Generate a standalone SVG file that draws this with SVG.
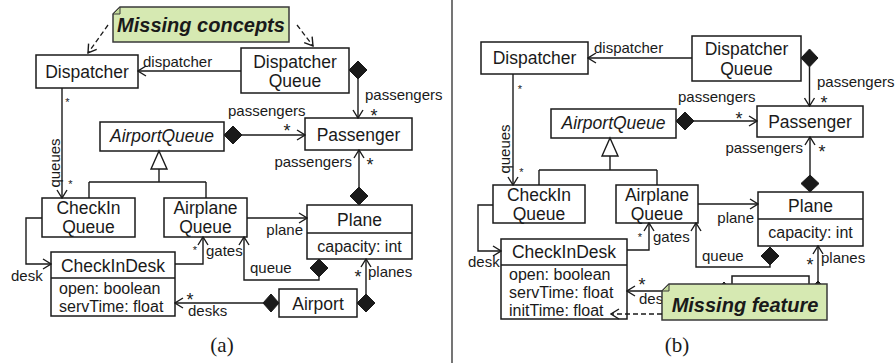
<svg xmlns="http://www.w3.org/2000/svg" width="896" height="363" viewBox="0 0 896 363">
<style>
  .box { fill: #ffffff; stroke: #1a1a1a; stroke-width: 1.5; }
  .div { stroke: #1a1a1a; stroke-width: 1.5; }
  .cn { font-family: "Liberation Sans", Arial, sans-serif; font-size: 17.5px; fill: #1a1a1a; text-anchor: middle; }
  .it { font-style: italic; }
  .at { font-family: "Liberation Sans", Arial, sans-serif; font-size: 16px; fill: #1a1a1a; }
  .lb { font-family: "Liberation Sans", Arial, sans-serif; font-size: 15px; fill: #1a1a1a; }
  .end { text-anchor: end; }
  .st { font-family: "Liberation Sans", Arial, sans-serif; font-size: 18px; fill: #1a1a1a; text-anchor: middle; }
  .ss { font-family: "Liberation Sans", Arial, sans-serif; font-size: 11px; fill: #1a1a1a; text-anchor: middle; }
  .ln { fill: none; stroke: #1a1a1a; stroke-width: 1.4; }
  .ar { marker-end: url(#arr); }
  .dm { fill: #1a1a1a; stroke: #1a1a1a; stroke-width: 1; }
  .gen { fill: #ffffff; stroke: #1a1a1a; stroke-width: 1.4; }
  .dash { fill: none; stroke: #1a1a1a; stroke-width: 1.3; stroke-dasharray: 5 3; marker-end: url(#arr); }
  .note { fill: #d6e9b2; stroke: #3a3a3a; stroke-width: 1.5; }
  .fold { fill: #c2d99a; stroke: #3a3a3a; stroke-width: 1; }
  .nt { font-family: "Liberation Sans", Arial, sans-serif; font-size: 20px; font-weight: bold; font-style: italic; fill: #1a1a1a; }
  .cap { font-family: "Liberation Serif", "Times New Roman", serif; font-size: 21px; fill: #1a1a1a; text-anchor: middle; }
</style>
<defs>
  <marker id="arr" viewBox="0 0 10 12" refX="9" refY="6" markerWidth="10" markerHeight="12" markerUnits="userSpaceOnUse" orient="auto">
    <path d="M1,1 L9,6 L1,11" fill="none" stroke="#1a1a1a" stroke-width="1.4"/>
  </marker>
</defs>
<rect width="896" height="363" fill="#ffffff"/>

<!-- panel divider -->
<line x1="452" y1="0" x2="452" y2="363" stroke="#1a1a1a" stroke-width="1.2"/>

<!-- ===== Left panel nodes ===== -->
<g id="a-dispatcher">
  <rect class="box" x="36" y="55" width="102" height="33"/>
  <text class="cn" x="87" y="78">Dispatcher</text>
</g>
<g id="a-dispatcherqueue">
  <rect class="box" x="241" y="48" width="108" height="45"/>
  <text class="cn" x="295" y="68">Dispatcher</text>
  <text class="cn" x="295" y="87">Queue</text>
</g>
<g id="a-airportqueue">
  <rect class="box" x="100" y="122" width="124" height="29"/>
  <text class="cn it" x="162" y="142">AirportQueue</text>
</g>
<g id="a-passenger">
  <rect class="box" x="305" y="118" width="107" height="32"/>
  <text class="cn" x="358.5" y="141">Passenger</text>
</g>
<g id="a-checkinqueue">
  <rect class="box" x="42" y="198" width="93" height="39"/>
  <text class="cn" x="88.5" y="214">CheckIn</text>
  <text class="cn" x="88.5" y="233">Queue</text>
</g>
<g id="a-airplanequeue">
  <rect class="box" x="164" y="198" width="83" height="39"/>
  <text class="cn" x="205.5" y="214">Airplane</text>
  <text class="cn" x="205.5" y="233">Queue</text>
</g>
<g id="a-plane">
  <rect class="box" x="307" y="205" width="105" height="54"/>
  <line class="div" x1="307" y1="233" x2="412" y2="233"/>
  <text class="cn" x="359.5" y="226">Plane</text>
  <text class="at" x="359.5" y="252" text-anchor="middle">capacity: int</text>
</g>
<g id="a-checkindesk">
  <rect class="box" x="51" y="252" width="124" height="64"/>
  <line class="div" x1="51" y1="278" x2="175" y2="278"/>
  <text class="cn" x="113" y="272">CheckInDesk</text>
  <text class="at" x="59" y="294">open: boolean</text>
  <text class="at" x="59" y="312">servTime: float</text>
</g>
<g id="a-airport">
  <rect class="box" x="279" y="289" width="78" height="28"/>
  <text class="cn" x="318" y="310">Airport</text>
</g>

<!-- ===== Right panel nodes ===== -->
<g id="b-dispatcher">
  <rect class="box" x="481" y="42" width="107" height="32"/>
  <text class="cn" x="534.5" y="64">Dispatcher</text>
</g>
<g id="b-dispatcherqueue">
  <rect class="box" x="692" y="36" width="109" height="45"/>
  <text class="cn" x="746.5" y="55">Dispatcher</text>
  <text class="cn" x="746.5" y="75">Queue</text>
</g>
<g id="b-airportqueue">
  <rect class="box" x="551" y="109" width="125" height="29"/>
  <text class="cn it" x="613.5" y="129">AirportQueue</text>
</g>
<g id="b-passenger">
  <rect class="box" x="757" y="106" width="106" height="31"/>
  <text class="cn" x="810" y="128">Passenger</text>
</g>
<g id="b-checkinqueue">
  <rect class="box" x="493" y="185" width="92" height="38"/>
  <text class="cn" x="539" y="201">CheckIn</text>
  <text class="cn" x="539" y="220">Queue</text>
</g>
<g id="b-airplanequeue">
  <rect class="box" x="616" y="185" width="82" height="38"/>
  <text class="cn" x="657" y="201">Airplane</text>
  <text class="cn" x="657" y="220">Queue</text>
</g>
<g id="b-plane">
  <rect class="box" x="758" y="192" width="105" height="54"/>
  <line class="div" x1="758" y1="219" x2="863" y2="219"/>
  <text class="cn" x="810.5" y="212">Plane</text>
  <text class="at" x="810.5" y="238" text-anchor="middle">capacity: int</text>
</g>
<g id="b-checkindesk">
  <rect class="box" x="501" y="239" width="126" height="80"/>
  <line class="div" x1="501" y1="265" x2="627" y2="265"/>
  <text class="cn" x="564" y="258">CheckInDesk</text>
  <text class="at" x="509" y="280">open: boolean</text>
  <text class="at" x="509" y="298">servTime: float</text>
  <text class="at" x="509" y="316">initTime: float</text>
</g>
<g id="b-airport">
  <rect class="box" x="732" y="276" width="77" height="28"/>
  <text class="cn" x="770.5" y="297">Airport</text>
</g>

<!-- ===== Connectors ===== -->
<g id="connectors">
  <!-- left -->
  <path class="ln ar" d="M241,71 H138"/>
  <text class="lb" x="143" y="67">dispatcher</text>

  <polygon class="dm" points="349,70 358,61 367,70 358,79"/>
  <path class="ln ar" d="M358,79 V118"/>
  <text class="lb" x="365" y="100">passengers</text>
  <text class="st" x="374" y="122">*</text>

  <polygon class="dm" points="224,135 233,126 242,135 233,144"/>
  <path class="ln ar" d="M242,135 H305"/>
  <text class="lb" x="228" y="116">passengers</text>
  <text class="st" x="287" y="137">*</text>

  <polygon class="dm" points="350,196 359,187 368,196 359,205"/>
  <path class="ln ar" d="M359,187 V150"/>
  <text class="lb end" x="352" y="167">passengers</text>
  <text class="st" x="370" y="171">*</text>

  <polygon class="gen" points="159,151 167,169 151,169"/>
  <path class="ln" d="M159,169 V182 M89,182 H206 M89,182 V198 M206,182 V198"/>

  <path class="ln ar" d="M62,88 V198"/>
  <text class="ss" x="67.5" y="106">*</text>
  <text class="ss" x="70.5" y="188">*</text>
  <text class="lb" x="60" y="163" text-anchor="middle" transform="rotate(-90 60 163)">queues</text>

  <path class="ln ar" d="M247,218 H307"/>
  <text class="lb end" x="303" y="235">plane</text>

  <path class="ln ar" d="M42,218 H26 V264 H51"/>
  <text class="lb" x="11" y="281">desk</text>

  <path class="ln ar" d="M175,264 H203 V237"/>
  <text class="ss" x="195" y="254">*</text>
  <text class="lb" x="206" y="256">gates</text>

  <polygon class="dm" points="310,268 319,259 328,268 319,277"/>
  <path class="ln ar" d="M319,277 V280 H244 V237"/>
  <text class="lb" x="250" y="273">queue</text>

  <polygon class="dm" points="263,303 271,294 279,303 271,312"/>
  <path class="ln ar" d="M263,303 H175"/>
  <text class="st" x="190" y="306">*</text>
  <text class="lb" x="188" y="316">desks</text>

  <polygon class="dm" points="357,303 366,294 375,303 366,312"/>
  <path class="ln ar" d="M366,294 V259"/>
  <text class="st" x="358" y="283">*</text>
  <text class="lb" x="368" y="277">planes</text>

  <!-- right -->
  <path class="ln ar" d="M692,58 H588"/>
  <text class="lb" x="594" y="53">dispatcher</text>

  <polygon class="dm" points="801,58 809.5,49 818,58 809.5,67"/>
  <path class="ln ar" d="M809.5,67 V106"/>
  <text class="lb" x="817" y="87">passengers</text>
  <text class="st" x="824" y="109">*</text>

  <polygon class="dm" points="676,121 685,112 694,121 685,130"/>
  <path class="ln ar" d="M694,121 H757"/>
  <text class="lb" x="678" y="102">passengers</text>
  <text class="st" x="739" y="125">*</text>

  <polygon class="dm" points="801,183.5 810,175 819,183.5 810,192"/>
  <path class="ln ar" d="M810,175 V137"/>
  <text class="lb end" x="803" y="153">passengers</text>
  <text class="st" x="822" y="158">*</text>

  <polygon class="gen" points="610,138 618,156 602,156"/>
  <path class="ln" d="M610,156 V170 M539,170 H657 M539,170 V185 M657,170 V185"/>

  <path class="ln ar" d="M513,74 V185"/>
  <text class="ss" x="520" y="93">*</text>
  <text class="ss" x="521.5" y="176">*</text>
  <text class="lb" x="510" y="149" text-anchor="middle" transform="rotate(-90 510 149)">queues</text>

  <path class="ln ar" d="M698,204 H758"/>
  <text class="lb end" x="754" y="223">plane</text>

  <path class="ln ar" d="M493,205 H478 V251 H501"/>
  <text class="lb" x="468" y="267">desk</text>

  <path class="ln ar" d="M627,250 H649 V223"/>
  <text class="ss" x="640" y="241">*</text>
  <text class="lb" x="653" y="242">gates</text>

  <polygon class="dm" points="761,256 770,247 779,256 770,265"/>
  <path class="ln ar" d="M770,265 V267 H696 V223"/>
  <text class="lb" x="702" y="261">queue</text>

  <polygon class="dm" points="809,290 818,281 827,290 818,299"/>
  <path class="ln ar" d="M818,281 V246"/>
  <text class="st" x="810" y="271">*</text>
  <text class="lb" x="821" y="263">planes</text>

  <polygon class="dm" points="716,291 724,282 732,291 724,300"/>
  <path class="ln ar" d="M716,291 H627"/>
  <text class="st" x="642" y="291">*</text>
  <text class="lb" x="639" y="304">desks</text>
</g>

<!-- ===== Notes ===== -->
<g id="note-missing-concepts">
  <path class="note" d="M120,7 H289 V42 H113 V14 Z"/>
  <path class="fold" d="M113,14 L120,7 L120,14 Z"/>
  <text class="nt" x="201" y="32" text-anchor="middle">Missing concepts</text>
</g>
<g id="note-missing-feature">
  <path class="note" d="M669,284 H827 V320 H662 V291 Z"/>
  <path class="fold" d="M662,291 L669,284 L669,291 Z"/>
  <text class="nt" x="745" y="312" text-anchor="middle">Missing feature</text>
</g>
<g id="note-links">
  <path class="dash" d="M108,25 L88,53"/>
  <path class="dash" d="M297,25 L313,46"/>
  <path class="dash" d="M662,314 H611"/>
</g>

<!-- captions -->
<text class="cap" x="222" y="352">(a)</text>
<text class="cap" x="677" y="352">(b)</text>
</svg>
